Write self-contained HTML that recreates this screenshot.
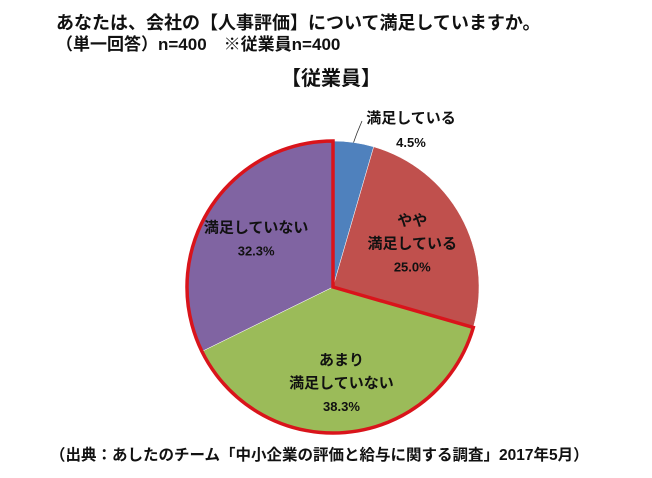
<!DOCTYPE html>
<html><head><meta charset="utf-8"><style>
body{margin:0;background:#fff;width:652px;height:478px;overflow:hidden;font-family:"Liberation Sans","Noto Sans CJK JP",sans-serif;}
.t{position:absolute;font-weight:bold;color:#111;white-space:nowrap}
</style></head><body>
<div class="t" style="left:56px;top:9px;font-size:18px;letter-spacing:0px;">あなたは、会社の【人事評価】について満足していますか。</div>
<div class="t" style="left:56px;top:30px;font-size:17px;">（単一回答）n=400　※従業員n=400</div>
<div class="t" style="left:281px;top:62px;font-size:20px;">【従業員】</div>
<svg id="pie" width="652" height="478" style="position:absolute;left:0;top:0"></svg>
<div class="t" style="left:50px;top:443px;font-size:15.5px;">（出典：あしたのチーム「中小企業の評価と給与に関する調査」2017年5月）</div>
<script>
const categories=["満足している","やや\n満足している","あまり\n満足していない","満足していない"];
const values=[4.5,25.0,38.3,32.3];
const labels=["4.5%","25.0%","38.3%","32.3%"];
const colors=["#4f81bd","#c0504d","#9bbb59","#8064a2"];
const svg=document.getElementById('pie');const NS="http://www.w3.org/2000/svg";
const cx=333,cy=287,r=146;
const total=values.reduce((a,b)=>a+b,0);
function pt(a,rr){return [cx+rr*Math.sin(a),cy-rr*Math.cos(a)];}
let a0=0;const angles=[];
values.forEach((v,i)=>{const a1=a0+v/total*2*Math.PI;angles.push([a0,a1]);
 const [x0,y0]=pt(a0,r),[x1,y1]=pt(a1,r);const large=(a1-a0)>Math.PI?1:0;
 const p=document.createElementNS(NS,'path');
 p.setAttribute('d',`M${cx},${cy}L${x0},${y0}A${r},${r} 0 ${large} 1 ${x1},${y1}Z`);
 p.setAttribute('fill',colors[i]);p.setAttribute('stroke','#fff');p.setAttribute('stroke-width','0.5');
 
 
 svg.appendChild(p);a0=a1;});
{const s=angles[2][0],e=angles[3][1];const [x0,y0]=pt(s,r),[x1,y1]=pt(e,r);
 const o=document.createElementNS(NS,'path');
 o.setAttribute('d',`M${cx},${cy}L${x0},${y0}A${r},${r} 0 ${(e-s)>Math.PI?1:0} 1 ${x1},${y1}Z`);
 o.setAttribute('fill','none');o.setAttribute('stroke','#d9141b');o.setAttribute('stroke-width','3.5');o.setAttribute('stroke-linejoin','miter');
 
 
 svg.appendChild(o);}
const lpos=[[null],[0.62],[0.66],[0.62]];
values.forEach((v,i)=>{const mid=(angles[i][0]+angles[i][1])/2;let x,y;
 if(i===0){x=411;y=130;
  const ln=document.createElementNS(NS,'path');const [lx,ly]=pt(mid,r);
  ln.setAttribute('d',`M${lx},${ly}L357,133L362,121`);ln.setAttribute('stroke','#333');ln.setAttribute('fill','none');ln.setAttribute('stroke-width','0.8');
  
  
  svg.appendChild(ln);}
 else{[x,y]=pt(mid,r*lpos[i][0]);}
 const lines=categories[i].split("\n").concat([labels[i]]);
 const t=document.createElementNS(NS,'text');t.setAttribute('text-anchor','middle');t.setAttribute('font-size','15');t.setAttribute('font-weight','bold');t.setAttribute('fill','#111');
 
 
 const h=i===0?24:23,start=y-(lines.length-1)*h/2+5;
 lines.forEach((s,k)=>{const ts=document.createElementNS(NS,'tspan');ts.setAttribute('x',x);ts.setAttribute('y',start+k*h);ts.textContent=s;
  if(/%/.test(s))ts.setAttribute('font-size','13');t.appendChild(ts);});
 svg.appendChild(t);});
</script>
</body></html>
